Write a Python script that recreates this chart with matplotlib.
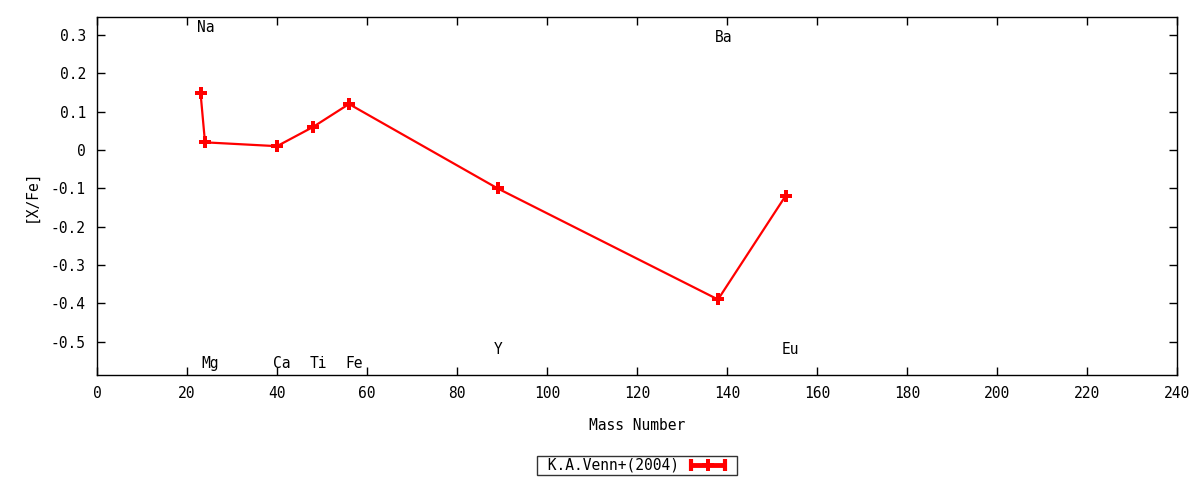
import numpy as np
import matplotlib
matplotlib.use('Agg')
import matplotlib.pyplot as plt
from matplotlib.ticker import FuncFormatter
from matplotlib.lines import Line2D
from matplotlib.legend_handler import HandlerBase

plt.rcParams['font.family'] = ['DejaVu Sans Mono']

# veri
elements = ['Na', 'Mg', 'Ca', 'Ti', 'Fe', 'Y', 'Ba', 'Eu']
mass = [23, 24, 40, 48, 56, 89, 138, 153]
xfe = [0.15, 0.02, 0.01, 0.06, 0.12, -0.10, -0.39, -0.12]
label_y = [0.32, -0.557, -0.557, -0.557, -0.557, -0.52, 0.293, -0.52]


# gnuplot tarzi legend ornegi: cizgi + ortada isaret + uclarda dikey cubuk
class GnuHandler(HandlerBase):
    def create_artists(self, legend, orig_handle, xdescent, ydescent,
                       width, height, fontsize, trans):
        y = height / 2 - ydescent
        x0, x1 = -xdescent + 2, width - xdescent - 7
        line = Line2D([x0, x1], [y, y], color='red', lw=3.5,
                      solid_capstyle='butt', transform=trans)
        caps = Line2D([x0, x1], [y, y], color='red', lw=0, marker='|',
                      markersize=9, markeredgewidth=3, transform=trans)
        mid = Line2D([(x0 + x1) / 2], [y], color='red', lw=0, marker='P',
                     markersize=8, markeredgewidth=0, transform=trans)
        return [line, caps, mid]


fig = plt.figure(figsize=(12, 4.8), dpi=100)
ax = fig.add_axes([97/1200, 1-375/480, 1080/1200, 358/480])

ln, = ax.plot(mass, xfe, color='red', lw=1.6, marker='P', markersize=8,
              markeredgewidth=0)

for el, m, ly in zip(elements, mass, label_y):
    ax.text(m - 0.8, ly, el, fontsize=10.5, ha='left', va='center')

ax.set_xlim(0, 240)
ax.set_ylim(-0.587, 0.347)
ax.set_xticks(np.arange(0, 241, 20))
ax.set_yticks(np.arange(-0.5, 0.31, 0.1))
ax.yaxis.set_major_formatter(FuncFormatter(lambda v, p: '%g' % (round(v, 2) + 0.0)))
ax.tick_params(direction='in', length=6, width=1, top=True, right=True,
               labelsize=10.5, pad=8)
for s in ax.spines.values():
    s.set_linewidth(1)

ax.set_xlabel('Mass Number', fontsize=10.5, labelpad=12)
ax.set_ylabel('[X/Fe]', fontsize=10.5, labelpad=9)

leg = ax.legend([ln], [' K.A.Venn+(2004)'],
                handler_map={ln: GnuHandler()},
                loc='upper center', bbox_to_anchor=(0.5, -0.225), fontsize=10.5,
                frameon=True, fancybox=False, edgecolor='black',
                markerfirst=False, handlelength=3.2, borderpad=0.15,
                handletextpad=0.6, borderaxespad=0)
leg.get_frame().set_linewidth(1)

fig.savefig('out.png', dpi=100)
